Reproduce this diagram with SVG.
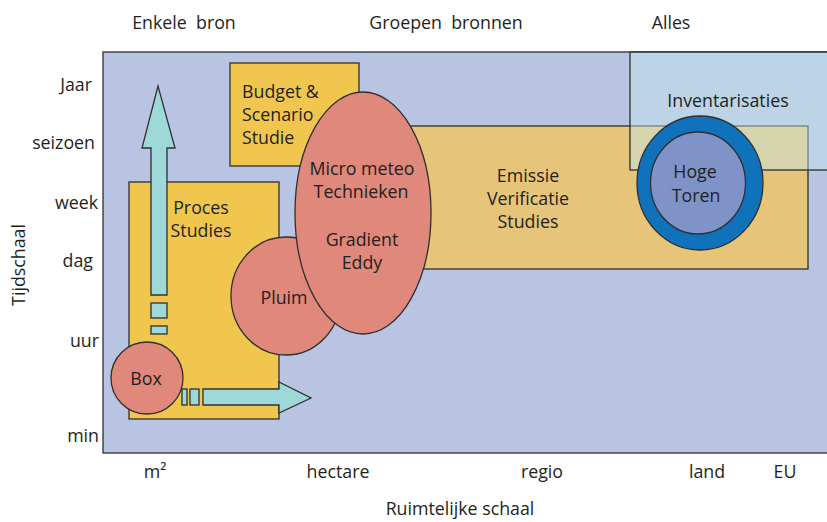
<svg xmlns="http://www.w3.org/2000/svg" width="827" height="522" viewBox="0 0 827 522">
<defs>
<style>
text{font-family:"Open Sans","Liberation Sans",sans-serif;font-size:17.8px;fill:#231f20}
.c{text-anchor:middle}
.e{text-anchor:end}
.ln{stroke:#2f2f2f;stroke-width:1.3}
.yel{fill:#f0c64f}
.red{fill:#e0887b}
.cy{fill:#9fd8d8}
</style>
</defs>
<rect x="0" y="0" width="827" height="522" fill="#ffffff"/>
<g id="plot">
<rect x="103" y="52" width="730" height="401" fill="#b9c3e2" class="ln"/>
</g>
<g id="axis-labels">
<text x="184" y="29" class="c" xml:space="preserve">Enkele  bron</text>
<text x="446" y="29" class="c" xml:space="preserve">Groepen  bronnen</text>
<text x="671" y="29" class="c">Alles</text>
<text x="92" y="91" class="e">Jaar</text>
<text x="95" y="149" class="e">seizoen</text>
<text x="98" y="209" class="e">week</text>
<text x="93" y="267" class="e">dag</text>
<text x="99" y="347" class="e">uur</text>
<text x="99" y="442" class="e">min</text>
<text x="0" y="0" class="c" transform="translate(25 265) rotate(-90)">Tijdschaal</text>
<text x="155" y="478" class="c">m²</text>
<text x="338" y="478" class="c">hectare</text>
<text x="542" y="478" class="c">regio</text>
<text x="707" y="478" class="c">land</text>
<text x="785" y="478" class="c">EU</text>
<text x="460" y="515" class="c">Ruimtelijke schaal</text>
</g>
<g id="emissie">
<rect x="400" y="126" width="408" height="143" fill="#e6c47a" class="ln"/>
<text x="528" y="182" class="c">Emissie</text>
<text x="528" y="205" class="c">Verificatie</text>
<text x="528" y="228" class="c">Studies</text>
</g>
<g id="inventarisaties">
<rect x="630" y="52" width="203" height="118" fill="#c0e9ec" fill-opacity="0.45" class="ln"/>
<text x="728" y="107" class="c">Inventarisaties</text>
</g>
<g id="budget">
<rect x="230" y="63" width="129" height="103" class="yel ln"/>
<text x="242" y="98">Budget &amp;</text>
<text x="242" y="121">Scenario</text>
<text x="242" y="144">Studie</text>
</g>
<g id="proces">
<rect x="129" y="182" width="150" height="237" class="yel ln"/>
<text x="201" y="214" class="c">Proces</text>
<text x="201" y="237" class="c">Studies</text>
</g>
<g id="arrows">
<polygon points="151,295 151,148 142,148 158,86 175,148 167,148 167,295" class="cy ln"/>
<rect x="151" y="303" width="16" height="15" class="cy ln"/>
<rect x="151" y="326" width="16" height="8" class="cy ln"/>
<polygon points="203,389 279,389 279,382 311,398 279,413 279,405 203,405" class="cy ln"/>
<rect x="182" y="389" width="5" height="16" class="cy ln"/>
<rect x="190" y="389" width="9" height="16" class="cy ln"/>
</g>
<g id="box">
<circle cx="147" cy="378" r="36" class="red ln"/>
<text x="146" y="385" class="c">Box</text>
</g>
<g id="pluim">
<ellipse cx="286" cy="296" rx="55" ry="59" class="red ln"/>
<text x="284" y="304" class="c">Pluim</text>
</g>
<g id="micrometeo">
<ellipse cx="363" cy="213" rx="68" ry="121" class="red ln"/>
<text x="362" y="175" class="c">Micro meteo</text>
<text x="361" y="198" class="c">Technieken</text>
<text x="362" y="246" class="c">Gradient</text>
<text x="362" y="269" class="c">Eddy</text>
</g>
<g id="hogetoren">
<ellipse cx="700" cy="183" rx="63" ry="67" fill="#0f72ba" class="ln"/>
<ellipse cx="698" cy="183" rx="47.5" ry="51" fill="#7f93c8" class="ln"/>
<text x="695" y="178" class="c">Hoge</text>
<text x="696" y="202" class="c">Toren</text>
</g>
</svg>
